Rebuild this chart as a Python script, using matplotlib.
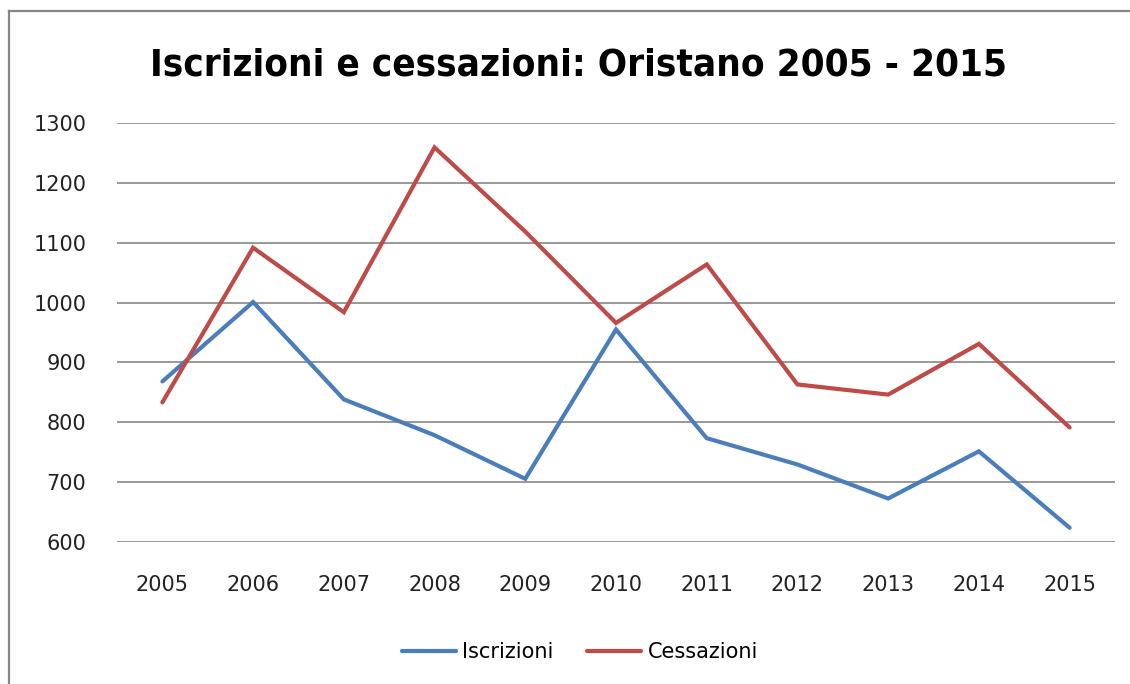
import matplotlib
matplotlib.use("Agg")
import matplotlib.pyplot as plt
from matplotlib.lines import Line2D

# data
anni = ["2005", "2006", "2007", "2008", "2009", "2010",
        "2011", "2012", "2013", "2014", "2015"]
iscrizioni = [868, 1001, 838, 778, 705, 955, 773, 729, 672, 751, 623]
cessazioni = [833, 1092, 984, 1260, 1119, 966, 1064, 863, 846, 931, 791]
y_ticks = [600, 700, 800, 900, 1000, 1100, 1200, 1300]

BLU = "#4A7EBB"
ROSSO = "#BE4B48"
GRIGIO = "#868686"

W, H = 1130, 684
fig = plt.figure(figsize=(W / 100, H / 100), dpi=100)

# chart frame (only left and top edges are visible in the reference)
fig.add_artist(Line2D([9 / W, 9 / W], [0, 1 - 11 / H], color=GRIGIO, lw=1.6,
                      transform=fig.transFigure))
fig.add_artist(Line2D([9 / W, 1], [1 - 11 / H, 1 - 11 / H], color=GRIGIO, lw=1.6,
                      transform=fig.transFigure))

ax = fig.add_axes([117 / W, 1 - 541.5 / H, 998 / W, 418 / H])
x = list(range(len(anni)))
ax.plot(x, iscrizioni, color=BLU, lw=3, solid_capstyle="round",
        solid_joinstyle="miter", label="Iscrizioni", zorder=3)
ax.plot(x, cessazioni, color=ROSSO, lw=3, solid_capstyle="round",
        solid_joinstyle="miter", label="Cessazioni", zorder=3)

ax.set_xlim(-0.5, len(anni) - 0.5)
ax.set_ylim(600, 1300)
ax.set_yticks(y_ticks)
ax.set_xticks(x)
ax.set_xticklabels(anni)
ax.yaxis.grid(True, color=GRIGIO, lw=1.2)
ax.set_axisbelow(True)
for s in ax.spines.values():
    s.set_visible(False)
ax.tick_params(axis="both", length=0, labelsize=15, colors="#222222")
ax.tick_params(axis="y", pad=22)
ax.tick_params(axis="x", pad=24)

titolo = fig.text(578 / W, 1 - 66 / H,
                  "Iscrizioni e cessazioni: Oristano 2005 - 2015",
                  ha="center", va="center", fontsize=33, fontweight="bold",
                  fontstretch="condensed", family="DejaVu Sans")
# shrink the title to the width it has in the reference (~860 px)
r = fig.canvas.get_renderer()
w = titolo.get_window_extent(r).width
titolo.set_fontsize(33 * 860 / w)

fig.legend(loc="center", bbox_to_anchor=(580 / W, 1 - 652 / H), ncol=2,
           frameon=False, fontsize=15, handlelength=2.6, handletextpad=0.3,
           columnspacing=1.6)

fig.savefig("out.png", dpi=100)
